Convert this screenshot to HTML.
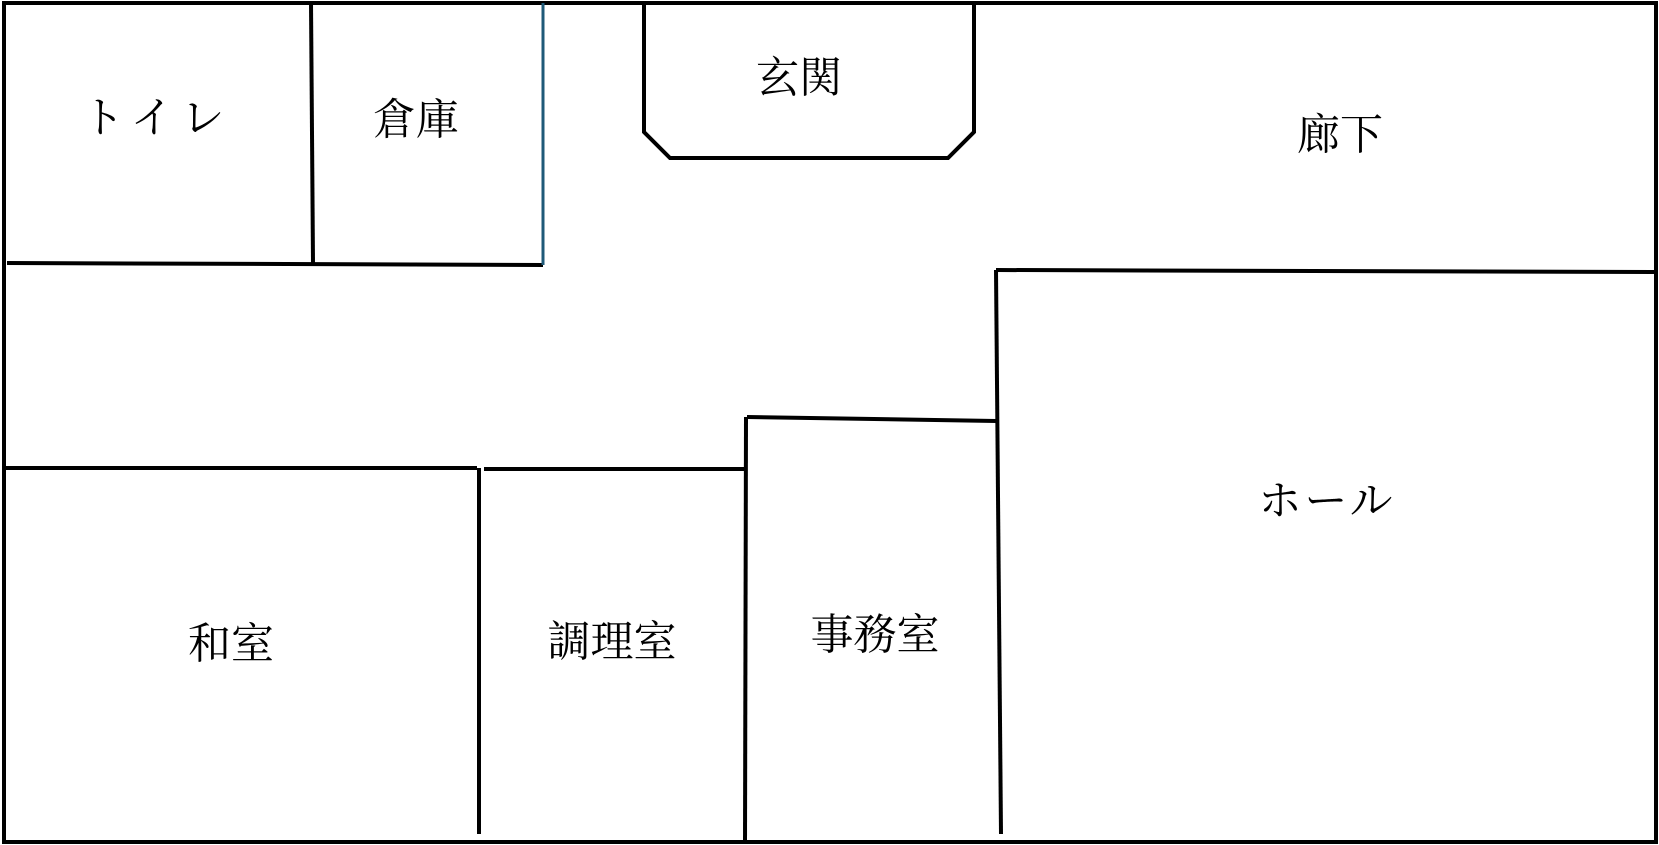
<!DOCTYPE html>
<html><head><meta charset="utf-8"><style>
body{margin:0;background:#fff;width:1659px;height:845px;overflow:hidden}
svg{position:absolute;left:0;top:0}
text{font-family:"Liberation Serif","Noto Serif CJK SC",serif;font-size:43px;fill:#000;text-anchor:middle;dominant-baseline:central}
</style></head><body>
<svg width="1659" height="845" viewBox="0 0 1659 845">
<g stroke="#000" stroke-width="4" fill="none">
<rect x="4" y="3" width="1652" height="839"/>
<line x1="7" y1="263" x2="543" y2="265"/>
<line x1="311" y1="3" x2="313" y2="263"/>
<polyline points="644,3 644,132 670,158 948,158 974,132 974,3"/>
<line x1="996" y1="270" x2="1656" y2="272"/>
<line x1="996" y1="270" x2="1001" y2="834"/>
<line x1="4" y1="468" x2="477" y2="468"/>
<line x1="484" y1="469" x2="744" y2="469"/>
<line x1="479" y1="468" x2="479" y2="834"/>
<line x1="747" y1="417" x2="996" y2="421"/>
<line x1="746" y1="417" x2="745" y2="842"/>
</g>
<line x1="543" y1="3" x2="543" y2="265" stroke="#1f5a78" stroke-width="3"/>
<text x="157" y="119" letter-spacing="8">トイレ</text>
<text x="416" y="121">倉庫</text>
<text x="799" y="79">玄関</text>
<text x="1340" y="136">廊下</text>
<text x="1327" y="502" letter-spacing="3">ホール</text>
<text x="231" y="645">和室</text>
<text x="612" y="643">調理室</text>
<text x="875" y="636">事務室</text>
</svg>
</body></html>
